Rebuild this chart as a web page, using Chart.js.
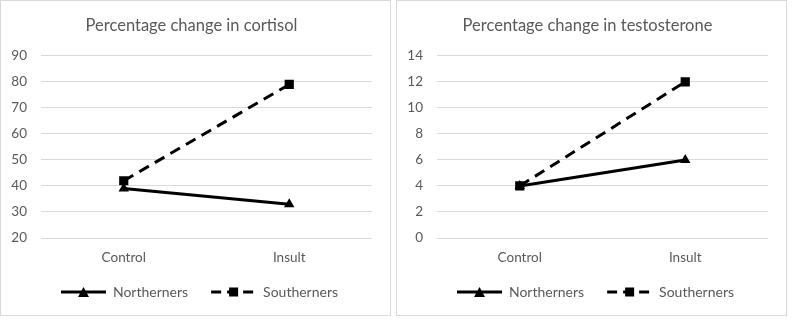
<!DOCTYPE html>
<html>
<head>
<meta charset="utf-8">
<script src="https://cdn.jsdelivr.net/npm/chart.js@4"></script>
<style>
  body { margin: 0; background: #fff; width: 800px; height: 328px; position: relative; overflow: hidden; }
  .box { position: absolute; top: 0px; width: 391px; height: 316px; border: 1px solid #d9d9d9; box-sizing: border-box; background: #fff; }
  #box1 { left: 0px; }
  #box2 { left: 396px; }
  canvas { display: block; }
</style>
</head>
<body>
<div class="box" id="box1"><canvas id="cortisolChart" width="389" height="314"></canvas></div>
<div class="box" id="box2"><canvas id="testoChart" width="389" height="314"></canvas></div>
<script>
// data
var categories = ["Control", "Insult"];
var seriesNames = ["Northerners", "Southerners"];
var cortisolNorth = [39, 33];
var cortisolSouth = [42, 79];
var testoNorth = [4, 6];
var testoSouth = [4, 12];

var FONT = "Lato, 'Open Sans', sans-serif";
var GREY = "#595959";

// legend swatch: line with marker in the middle (4px blank on the left)
function swatch(dashed, style) {
    var c = document.createElement('canvas');
    c.width = 49; c.height = 12;
    var g = c.getContext('2d');
    g.strokeStyle = '#000';
    g.lineWidth = 3;
    if (dashed) g.setLineDash([10, 6]);
    g.beginPath(); g.moveTo(4, 6); g.lineTo(49, 6); g.stroke();
    g.fillStyle = '#000';
    if (style == 'rect') {
        g.fillRect(22, 1.5, 9, 9);
    } else {
        g.beginPath(); g.moveTo(26.5, 1); g.lineTo(32, 11); g.lineTo(21, 11); g.closePath(); g.fill();
    }
    return c;
}
var swatches = [swatch(false, 'triangle'), swatch(true, 'rect')];

// legend sits a bit right of centre in the original
var legendShift = {
    id: 'legendShift',
    afterLayout: function (chart) {
        chart.legend.left += 6;
        chart.legend.right += 6;
    }
};

function makeChart(id, title, north, south, yMin, yMax, yStep) {
    var ctx = document.getElementById(id).getContext('2d');
    return new Chart(ctx, {
        type: 'line',
        data: {
            labels: categories,
            datasets: [{
                label: seriesNames[0],
                data: north,
                borderColor: '#000',
                backgroundColor: '#000',
                borderWidth: 3,
                pointStyle: 'triangle',
                pointRadius: 6,
                pointBorderWidth: 0,
                fill: false
            }, {
                label: seriesNames[1],
                data: south,
                borderColor: '#000',
                backgroundColor: '#000',
                borderWidth: 3,
                borderDash: [11, 7],
                pointStyle: 'rect',
                pointRadius: 6.5,
                pointBorderWidth: 0,
                fill: false
            }]
        },
        plugins: [legendShift],
        options: {
            responsive: false,
            animation: false,
            layout: { padding: { left: 10, right: 18, top: 0, bottom: 6 } },
            plugins: {
                title: {
                    display: true,
                    text: title,
                    color: GREY,
                    font: { family: FONT, size: 16.5, weight: 'normal' },
                    padding: { top: 15, bottom: 20 }
                },
                legend: {
                    position: 'bottom',
                    labels: {
                        color: GREY,
                        font: { family: FONT, size: 14 },
                        usePointStyle: true,
                        pointStyleWidth: 49,
                        padding: 19,
                        generateLabels: function (chart) {
                            return chart.data.datasets.map(function (ds, i) {
                                return {
                                    text: ds.label,
                                    pointStyle: swatches[i],
                                    fontColor: GREY,
                                    datasetIndex: i,
                                    hidden: false,
                                    lineWidth: 0
                                };
                            });
                        }
                    }
                },
                tooltip: { enabled: false }
            },
            scales: {
                x: {
                    offset: true,
                    afterFit: function (scale) { scale.height = 28; },
                    grid: { display: false, drawTicks: false },
                    border: { display: false },
                    ticks: { color: GREY, font: { family: FONT, size: 13.5 }, padding: 12 }
                },
                y: {
                    min: yMin,
                    max: yMax,
                    afterFit: function (scale) { scale.width = 30; },
                    ticks: { stepSize: yStep, color: GREY, font: { family: FONT, size: 13.5 }, padding: 14 },
                    grid: { color: '#d9d9d9', lineWidth: 1, drawTicks: false },
                    border: { display: false }
                }
            }
        }
    });
}

makeChart("cortisolChart", "Percentage change in cortisol", cortisolNorth, cortisolSouth, 20, 90, 10);
makeChart("testoChart", "Percentage change in testosterone", testoNorth, testoSouth, 0, 14, 2);
</script>
</body>
</html>
